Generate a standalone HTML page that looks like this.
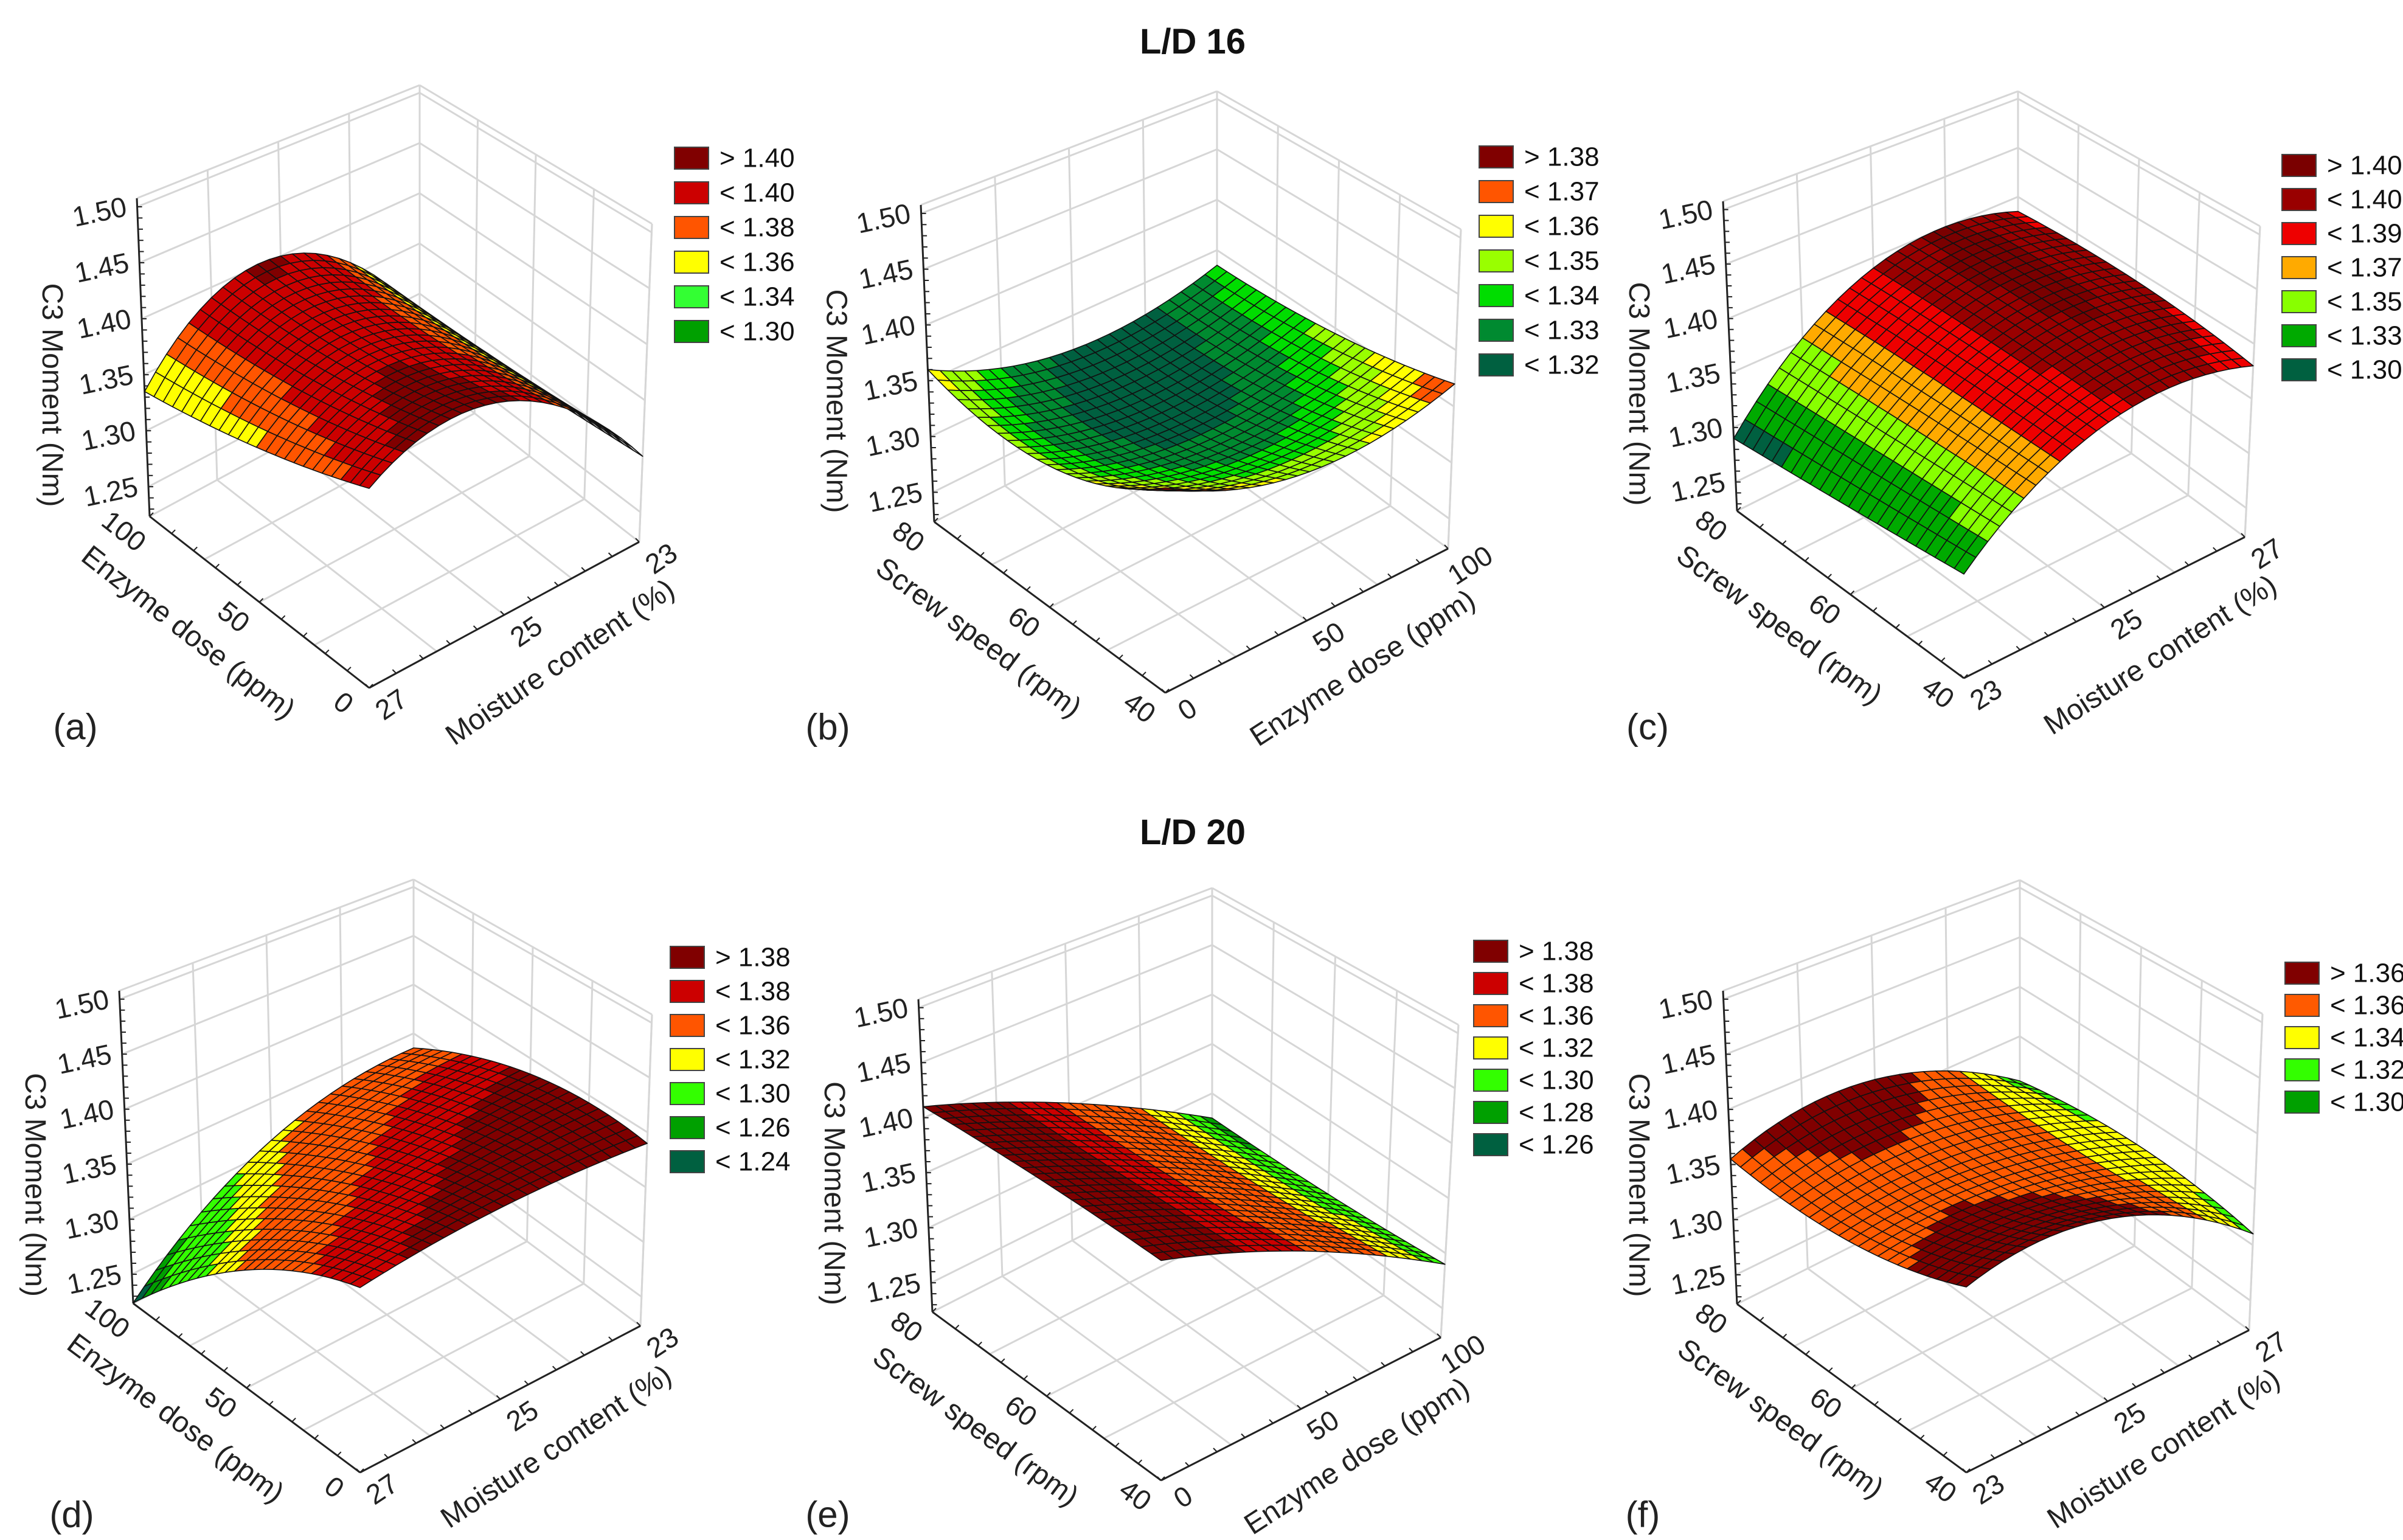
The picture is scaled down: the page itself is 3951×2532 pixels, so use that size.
<!DOCTYPE html>
<html><head><meta charset="utf-8">
<style>
html,body{margin:0;padding:0;background:#fff;}
svg{display:block;font-family:"Liberation Sans",sans-serif;}
</style></head>
<body>
<svg id="fig" xmlns="http://www.w3.org/2000/svg" width="3951" height="2532" viewBox="0 0 3951 2532">
<rect width="3951" height="2532" fill="#fff"/>
<text x="1961" y="88" text-anchor="middle" font-size="58" font-weight="bold" fill="#111">L/D 16</text>
<text x="1961" y="1388" text-anchor="middle" font-size="58" font-weight="bold" fill="#111">L/D 20</text>
</svg>
<script>
// ---- data: surface response grids [leftAxis index 0,mid,max][rightAxis index 0,mid,max] ----
const zA = [[1.385,1.405,1.30],[1.355,1.395,1.29],[1.335,1.40,1.28]];
const zB = [[1.39,1.35,1.37],[1.345,1.318,1.345],[1.36,1.318,1.335]];
const zC = [[1.31,1.385,1.38],[1.30,1.39,1.39],[1.29,1.39,1.385]];
const zD = [[1.375,1.39,1.39],[1.325,1.365,1.385],[1.224,1.31,1.335]];
const zE = [[1.405,1.36,1.29],[1.41,1.355,1.28],[1.41,1.355,1.275]];
const zF = [[1.375,1.38,1.31],[1.35,1.355,1.32],[1.355,1.37,1.305]];
// legend labels
const legA = ["> 1.40","< 1.40","< 1.38","< 1.36","< 1.34","< 1.30"];
const legB = ["> 1.38","< 1.37","< 1.36","< 1.35","< 1.34","< 1.33","< 1.32"];
const legC = ["> 1.40","< 1.40","< 1.39","< 1.37","< 1.35","< 1.33","< 1.30"];
const legD = ["> 1.38","< 1.38","< 1.36","< 1.32","< 1.30","< 1.26","< 1.24"];
const legE = ["> 1.38","< 1.38","< 1.36","< 1.32","< 1.30","< 1.28","< 1.26"];
const legF = ["> 1.36","< 1.36","< 1.34","< 1.32","< 1.30"];
// tick labels
const zTicks = ["1.25","1.30","1.35","1.40","1.45","1.50"];
const enzTicks = ["0","50","100"];
const speedTicks = ["40","60","80"];
const moistDesc = ["27","25","23"];
const moistAsc = ["23","25","27"];
const ZMIN = 1.2235, ZMAX = 1.5076;

const colA = ["#800000","#cc0000","#ff5500","#ffff00","#33ff33","#00a000"];
const colB = ["#800000","#ff5500","#ffff00","#99ff00","#00dd00","#008a30","#006040"];
const colC = ["#7a0000","#990000","#ee0000","#ffaa00","#88ff00","#00aa00","#006040"];
const colD = ["#800000","#cc0000","#ff5500","#ffff00","#33ff00","#00a000","#006040"];
const colF = ["#800000","#ff5a00","#ffff00","#33ff00","#00a000"];

const NS = "http://www.w3.org/2000/svg";
const svg = document.getElementById('fig');
function mk(tag, attrs, parent){const e=document.createElementNS(NS,tag);for(const k in attrs)e.setAttribute(k,attrs[k]);(parent||svg).appendChild(e);return e;}

const panels = [
 {id:'a', z:zA, leg:legA, col:colA, gray:1.335, L:[246,849],LT:[225,326],F:[607,1131],R:[1051,891],RT:[1072,368],BTy:140,
  lg:[1109,242,57], lt:"Enzyme dose (ppm)", lticks:enzTicks, rt:"Moisture content (%)", rticks:moistDesc, tag:[124,1195]},
 {id:'b', z:zB, leg:legB, col:colB, gray:0, L:[1536,858],LT:[1514,337],F:[1916,1139],R:[2381,902],RT:[2402,377],BTy:150,
  lg:[2432,240,57], lt:"Screw speed (rpm)", lticks:speedTicks, rt:"Enzyme dose (ppm)", rticks:enzTicks, tag:[1361,1195]},
 {id:'c', z:zC, leg:legC, col:colC, gray:0, L:[2856,840],LT:[2833,331],F:[3229,1115],R:[3691,883],RT:[3716,372],BTy:150,
  lg:[3752,254,56], lt:"Screw speed (rpm)", lticks:speedTicks, rt:"Moisture content (%)", rticks:moistAsc, tag:[2709,1195]},
 {id:'d', z:zD, leg:legD, col:colD, gray:0, L:[219,2143],LT:[196,1629],F:[592,2421],R:[1053,2180],RT:[1072,1668],BTy:1446,
  lg:[1102,1556,56], lt:"Enzyme dose (ppm)", lticks:enzTicks, rt:"Moisture content (%)", rticks:moistDesc, tag:[118,2490]},
 {id:'e', z:zE, leg:legE, col:colD, gray:0, L:[1533,2157],LT:[1510,1643],F:[1909,2434],R:[2369,2199],RT:[2398,1685],BTy:1460,
  lg:[2423,1546,53], lt:"Screw speed (rpm)", lticks:speedTicks, rt:"Enzyme dose (ppm)", rticks:enzTicks, tag:[1361,2490]},
 {id:'f', z:zF, leg:legF, col:colF, gray:0, L:[2856,2144],LT:[2833,1629],F:[3233,2421],R:[3698,2187],RT:[3720,1667],BTy:1447,
  lg:[3757,1582,53], lt:"Screw speed (rpm)", lticks:speedTicks, rt:"Moisture content (%)", rticks:moistAsc, tag:[2701,2490]}
];

function q(t){return [2*(t-.5)*(t-1), -4*t*(t-1), 2*t*(t-.5)];}
function surfZ(g,u,v){const a=q(v),b=q(u);let s=0;for(let i=0;i<3;i++)for(let j=0;j<3;j++)s+=a[i]*b[j]*g[i][j];return s;}
function wOf(z){return (z-ZMIN)/(ZMAX-ZMIN);}

panels.forEach(p=>{
  const F=p.F,R=p.R,L=p.L;
  const B=[L[0]+R[0]-F[0], L[1]+R[1]-F[1]];
  const Hl=L[1]-p.LT[1], Hr=R[1]-p.RT[1], Hb=B[1]-p.BTy, Hf=(Hl+Hr)-Hb;
  const FT=[F[0],F[1]-Hf], BT=[B[0],p.BTy];
  function bil(a,b,c,d,u,v){
    return [a[0]*(1-u)*(1-v)+b[0]*u*(1-v)+c[0]*(1-u)*v+d[0]*u*v, a[1]*(1-u)*(1-v)+b[1]*u*(1-v)+c[1]*(1-u)*v+d[1]*u*v];}
  function P(u,v,w){const g=bil(F,R,L,B,u,v),t=bil(FT,p.RT,p.LT,BT,u,v);return [g[0]*(1-w)+t[0]*w, g[1]*(1-w)+t[1]*w];}
  const G=mk('g',{});
  
  
  const grid=mk('g',{stroke:'#d6d6d6','stroke-width':3,fill:'none'},G);
  
  
  function line(a,b,par,attrs){const e=mk('line',Object.assign({x1:a[0].toFixed(1),y1:a[1].toFixed(1),x2:b[0].toFixed(1),y2:b[1].toFixed(1)},attrs||{}),par);return e;}
  const zl=[1.25,1.30,1.35,1.40,1.45,1.50];
  for(let k=0;k<=4;k++){const t=k/4;
    line(P(t,1,0),P(t,1,1),grid);
    line(P(1,t,0),P(1,t,1),grid);
    line(P(t,0,0),P(t,1,0),grid);
    line(P(0,t,0),P(1,t,0),grid);
  }
  zl.forEach(z=>{const w=wOf(z);line(P(0,1,w),P(1,1,w),grid);line(P(1,0,w),P(1,1,w),grid);});
  line(P(0,1,1),P(1,1,1),grid);line(P(1,0,1),P(1,1,1),grid);
  const ax=mk('g',{stroke:'#222','stroke-width':3,fill:'none'},G);
  
  
  line(P(0,1,0),P(0,1,1),ax);
  line(P(0,0,0),P(0,1,0),ax);
  line(P(0,0,0),P(1,0,0),ax);
  line(P(1,0,0),P(1,0,1),grid);
  for(let z=1.23;z<=1.505;z+=0.01){const a=P(0,1,wOf(z));line(a,[a[0]+8,a[1]],ax,{'stroke-width':2});}
  for(let k=0;k<=10;k++){const t=k/10;const a=P(0,t,0);line(a,[a[0]+6,a[1]-6],ax,{'stroke-width':2});const b=P(t,0,0);line(b,[b[0]-6,b[1]-6],ax,{'stroke-width':2});}
  const N=24, cells=[];
  const Z=[];for(let i=0;i<=N;i++){Z.push([]);for(let j=0;j<=N;j++)Z[i].push(surfZ(p.z,j/N,i/N));}
  for(let i=0;i<N;i++)for(let j=0;j<N;j++)cells.push([i,j]);
  cells.sort((a,b)=>(b[0]+b[1])-(a[0]+a[1]));
  const th=p.leg.map(s=>parseFloat(s.slice(2)));
  function color(z){if(p.gray&&z<p.gray)return '#d0d0d0';for(let k=th.length-1;k>=1;k--){if(z<th[k])return p.col[k];}return p.col[0];}
  const S=mk('g',{stroke:'#111','stroke-width':1.6,'stroke-linejoin':'round'},G);
  
  
  cells.forEach(([i,j])=>{
    const zs=[Z[i][j],Z[i][j+1],Z[i+1][j+1],Z[i+1][j]];
    const zc=(zs[0]+zs[1]+zs[2]+zs[3])/4;
    const pts=[P(j/N,i/N,wOf(zs[0])),P((j+1)/N,i/N,wOf(zs[1])),P((j+1)/N,(i+1)/N,wOf(zs[2])),P(j/N,(i+1)/N,wOf(zs[3]))];
    const c=mk('polygon',{points:pts.map(q=>q[0].toFixed(1)+','+q[1].toFixed(1)).join(' '),fill:color(zc)},S);
    
    
  });
  const T=mk('g',{fill:'#222','font-size':46},G);
  
  
  function txt(s,x,y,rot,attrs){const e=mk('text',Object.assign({x:x.toFixed(1),y:y.toFixed(1),'text-anchor':'middle','dominant-baseline':'central',transform:`rotate(${rot} ${x.toFixed(1)} ${y.toFixed(1)})`},attrs||{}),T);e.textContent=s;return e;}
  zTicks.forEach(s=>{const a=P(0,1,wOf(parseFloat(s)));const e=txt(s,a[0]-62,a[1]+8,-12);});
  const angL=Math.atan2(F[1]-L[1],F[0]-L[0])*180/Math.PI;
  const angR=Math.atan2(R[1]-F[1],R[0]-F[0])*180/Math.PI-6;
  p.lticks.forEach((s,k)=>{const a=P(0,k/2,0);const e=txt(s,a[0]-42,a[1]+24,angL);});
  p.rticks.forEach((s,k)=>{const a=P(k/2,0,0);const e=txt(s,a[0]+36,a[1]+27,angR);});
  const ml=P(0,0.5,0);let e=txt(p.lt,ml[0]-117,ml[1]+50,angL,{'font-size':48});
  
  const mr=P(0.5,0,0);e=txt(p.rt,mr[0]+92,mr[1]+78,angR,{'font-size':48});
  
  const mz=P(0,1,0.5);e=txt("C3 Moment (Nm)",mz[0]-150,mz[1]+62,90,{'font-size':48});
  
  e=txt('('+p.id+')',p.tag[0],p.tag[1],0,{'font-size':60});
  
  const LG=mk('g',{},G);
  
  
  p.leg.forEach((s,k)=>{
    const y=p.lg[1]+k*p.lg[2];
    const r=mk('rect',{x:p.lg[0],y:y,width:56,height:36,fill:p.col[k],stroke:'#444','stroke-width':2},LG);
    
    
    const t=mk('text',{x:p.lg[0]+74,y:y+18,'dominant-baseline':'central','font-size':44,fill:'#111'},LG);
    t.textContent=s;
    
    
  });
});
</script>
</body></html>
